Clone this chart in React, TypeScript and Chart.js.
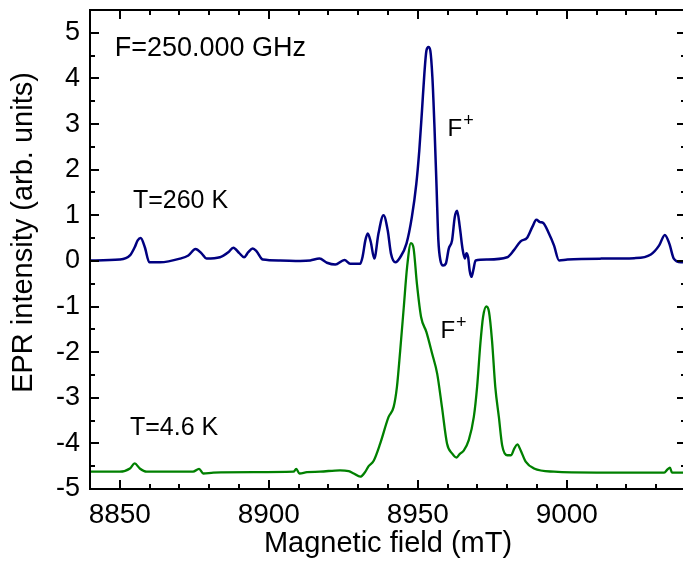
import React, { useEffect, useRef } from "react";
import { Chart, registerables } from "chart.js";

Chart.register(...registerables);

// ---- data (Magnetic field in mT, EPR intensity in arb. units) ----
const blueField = [
  8840, 8850, 8853.4, 8855, 8856, 8857, 8858.4, 8859.9, 8863.5, 8870.2, 8873, 8875.4, 8877.5, 8879.1,
  8883.6, 8886.4, 8888.1, 8890.1, 8891.7, 8893.1, 8894.6, 8895.9, 8898, 8903.8, 8910.5, 8913.9, 8917,
  8919.5, 8922.3, 8925.4, 8927.3, 8930.7, 8931.5, 8932.4, 8933.2, 8934.2, 8935.4, 8936.8, 8938.5, 8939.9,
  8941, 8942.5, 8944.1, 8946.2, 8948, 8949.5, 8950.5, 8951.4, 8952.2, 8952.9, 8953.6, 8954.2, 8954.9,
  8955.6, 8956.3, 8956.9, 8957.6, 8958.5, 8959.4, 8960.4, 8961.5, 8962.4, 8963.2, 8964.1, 8965, 8965.8,
  8966.3, 8966.9, 8967.4, 8968, 8968.6, 8969.4, 8973.3, 8980, 8982.2, 8984.5, 8986.7, 8988.4, 8989.8,
  8991, 8992.1, 8994, 8995.7, 8997.4, 9000.2, 9011.4, 9022.6, 9028.2, 9031, 9032.9, 9034.4, 9035.9,
  9038.3, 9040,
];
const blueIntensity = [
  0.01, 0.03, 0.12, 0.3, 0.45, 0.5, 0.3, -0.03, -0.03, 0.05, 0.12, 0.26, 0.16, 0.05,
  0.08, 0.19, 0.29, 0.17, 0.08, 0.19, 0.27, 0.21, 0.03, 0.01, 0.0, 0.01, 0.05,
  -0.04, -0.08, 0.02, -0.06, -0.06, 0.1, 0.45, 0.6, 0.42, 0.05, 0.6, 1.0, 0.67,
  0.16, -0.03, 0.08, 0.38, 0.96, 1.69, 2.42, 3.29, 4.1, 4.61, 4.69, 4.61, 4.02,
  2.93, 1.61, 0.45, 0.01, -0.1, -0.06, 0.27, 0.45, 0.96, 1.1, 0.74, 0.27, 0.05,
  0.17, 0.08, -0.21, -0.35, -0.21, 0.01, 0.03, 0.08, 0.23, 0.43, 0.51, 0.74, 0.9,
  0.85, 0.83, 0.6, 0.34, 0.01, 0.03, 0.05, 0.06, 0.14, 0.34, 0.57, 0.38, 0.05,
  -0.03, -0.02,
];

const greenField = [
  8840, 8850, 8853.4, 8855, 8856.7, 8859, 8874.6, 8876.6, 8878, 8881.4, 8895, 8908.3, 8909.2, 8910.3,
  8912.8, 8917.2, 8923.9, 8926.8, 8928.5, 8930.7, 8932.2, 8933.5, 8935.2, 8937.4, 8940.2, 8941.9, 8943,
  8944.1, 8945.3, 8946.4, 8947.7, 8948.6, 8949.7, 8951.1, 8952.9, 8954.8, 8956.5, 8958.1, 8959.8, 8961.5,
  8963, 8964.1, 8965.4, 8967.1, 8968.8, 8969.9, 8971, 8971.9, 8973, 8973.9, 8974.9, 8976, 8977.2, 8978.3,
  8980, 8981.3, 8982.4, 8983.4, 8984.5, 8986.2, 8989, 8995.7, 9010, 9022.6, 9032.7, 9033.8, 9034.6,
  9035.3, 9040,
];
const greenIntensity = [
  -4.62, -4.62, -4.55, -4.44, -4.55, -4.62, -4.62, -4.56, -4.66, -4.64, -4.63, -4.62, -4.56, -4.66,
  -4.63, -4.62, -4.59, -4.61, -4.66, -4.73, -4.64, -4.5, -4.38, -4.0, -3.42, -3.2, -2.76,
  -1.96, -1.01, -0.14, 0.39, 0.27, -0.5, -1.23, -1.56, -2.03, -2.47, -3.2, -4.0, -4.22,
  -4.31, -4.23, -4.16, -3.93, -3.42, -2.76, -1.81, -1.23, -1.0, -1.12, -1.74, -2.76, -3.42, -4.04,
  -4.26, -4.26, -4.11, -4.02, -4.15, -4.4, -4.55, -4.62, -4.64, -4.64, -4.64, -4.57, -4.53,
  -4.64, -4.64,
];

const xTickValues = [8850, 8900, 8950, 9000];
const yTickValues = [-5, -4, -3, -2, -1, 0, 1, 2, 3, 4, 5];
const X_MIN = 8840;
const X_MAX = 9040;
const Y_MIN = -5;
const Y_MAX = 5.5;

// text annotations placed in data coordinates (left edge, baseline)
const annotations = [
  { text: "F=250.000 GHz", x: 8848.3, y: 4.5, size: 27, sup: "" },
  { text: "T=260 K", x: 8854.4, y: 1.17, size: 25, sup: "" },
  { text: "T=4.6 K", x: 8853.4, y: -3.82, size: 25, sup: "" },
  { text: "F", x: 8960.0, y: 2.74, size: 24, sup: "+" },
  { text: "F", x: 8957.6, y: -1.7, size: 24, sup: "+" },
];

const FONT = "'Liberation Sans', Arial, Helvetica, sans-serif";

const framePlugin = {
  id: "frameTicks",
  afterDraw(chart: any) {
    const { ctx, chartArea: a, scales } = chart;
    const xs = scales.x;
    const ys = scales.y;
    ctx.save();
    ctx.strokeStyle = "#000";
    ctx.lineWidth = 2;
    ctx.beginPath();
    for (let v = X_MIN + 10; v < X_MAX; v += 10) {
      const major = v % 50 === 0;
      const len = major ? 9 : 5;
      const px = Math.round(xs.getPixelForValue(v));
      ctx.moveTo(px, a.bottom);
      ctx.lineTo(px, a.bottom - len);
      ctx.moveTo(px, a.top);
      ctx.lineTo(px, a.top + len);
    }
    for (let v = Y_MIN + 0.5; v < Y_MAX; v += 0.5) {
      const major = Number.isInteger(v);
      const len = major ? 9 : 5;
      const py = Math.round(ys.getPixelForValue(v));
      ctx.moveTo(a.left, py);
      ctx.lineTo(a.left + len, py);
      ctx.moveTo(a.right, py);
      ctx.lineTo(a.right - len, py);
    }
    ctx.stroke();
    ctx.strokeRect(a.left, a.top, a.right - a.left, a.bottom - a.top);

    // annotations
    ctx.fillStyle = "#000";
    ctx.textAlign = "left";
    ctx.textBaseline = "alphabetic";
    for (const an of annotations) {
      const px = xs.getPixelForValue(an.x);
      const py = ys.getPixelForValue(an.y);
      ctx.font = `${an.size}px ${FONT}`;
      ctx.fillText(an.text, px, py);
      if (an.sup) {
        const w = ctx.measureText(an.text).width;
        ctx.font = `18px ${FONT}`;
        ctx.fillText(an.sup, px + w + 1, py - 10);
      }
    }

    // y axis title
    ctx.save();
    ctx.translate(32, (a.top + a.bottom) / 2 - 17);
    ctx.rotate(-Math.PI / 2);
    ctx.textAlign = "center";
    ctx.textBaseline = "alphabetic";
    ctx.font = `29px ${FONT}`;
    ctx.fillText("EPR intensity (arb. units)", 0, 0);
    ctx.restore();
    ctx.restore();
  },
};

export default function App() {
  const ref = useRef<HTMLCanvasElement | null>(null);
  useEffect(() => {
    if (!ref.current) return;
    const chart = new Chart(ref.current, {
      type: "line",
      data: {
        datasets: [
          {
            label: "T=260 K",
            data: blueField.map((x, i) => ({ x, y: blueIntensity[i] })),
            borderColor: "#000080",
            borderWidth: 2.5,
            pointRadius: 0,
            cubicInterpolationMode: "monotone",
            fill: false,
          },
          {
            label: "T=4.6 K",
            data: greenField.map((x, i) => ({ x, y: greenIntensity[i] })),
            borderColor: "#008000",
            borderWidth: 2.3,
            pointRadius: 0,
            cubicInterpolationMode: "monotone",
            fill: false,
          },
        ],
      },
      options: {
        animation: false,
        responsive: false,
        devicePixelRatio: 1,
        layout: { padding: { top: 10, right: 4, left: 0, bottom: 0 } },
        plugins: { legend: { display: false }, tooltip: { enabled: false } },
        scales: {
          x: {
            type: "linear",
            min: X_MIN,
            max: X_MAX,
            afterBuildTicks: (s: any) => {
              s.ticks = xTickValues.map((v) => ({ value: v }));
            },
            afterFit: (s: any) => {
              s.height = 72;
              s.paddingLeft = 0;
              s.paddingRight = 0;
            },
            grid: { display: false, drawTicks: false },
            border: { display: false },
            ticks: {
              color: "#000",
              padding: 9,
              maxRotation: 0,
              autoSkip: false,
              callback: (v: any) => String(v),
              font: { family: FONT, size: 28 },
            },
            title: {
              display: true,
              text: "Magnetic field (mT)",
              color: "#000",
              padding: { top: 0, bottom: 0 },
              font: { family: FONT, size: 29 },
            },
          },
          y: {
            type: "linear",
            min: Y_MIN,
            max: Y_MAX,
            afterBuildTicks: (s: any) => {
              s.ticks = yTickValues.map((v) => ({ value: v }));
            },
            afterFit: (s: any) => {
              s.width = 90;
              s.paddingTop = 0;
              s.paddingBottom = 0;
            },
            grid: { display: false, drawTicks: false },
            border: { display: false },
            ticks: {
              color: "#000",
              padding: 10,
              autoSkip: false,
              callback: (v: any) => String(v),
              font: { family: FONT, size: 27 },
            },
          },
        },
      },
      plugins: [framePlugin],
    });
    return () => chart.destroy();
  }, []);
  return (
    <div style={{ position: "fixed", left: 0, top: 0, width: 690, height: 561, background: "#fff" }}>
      <canvas ref={ref} width={690} height={561} style={{ display: "block", width: 690, height: 561 }} />
    </div>
  );
}
